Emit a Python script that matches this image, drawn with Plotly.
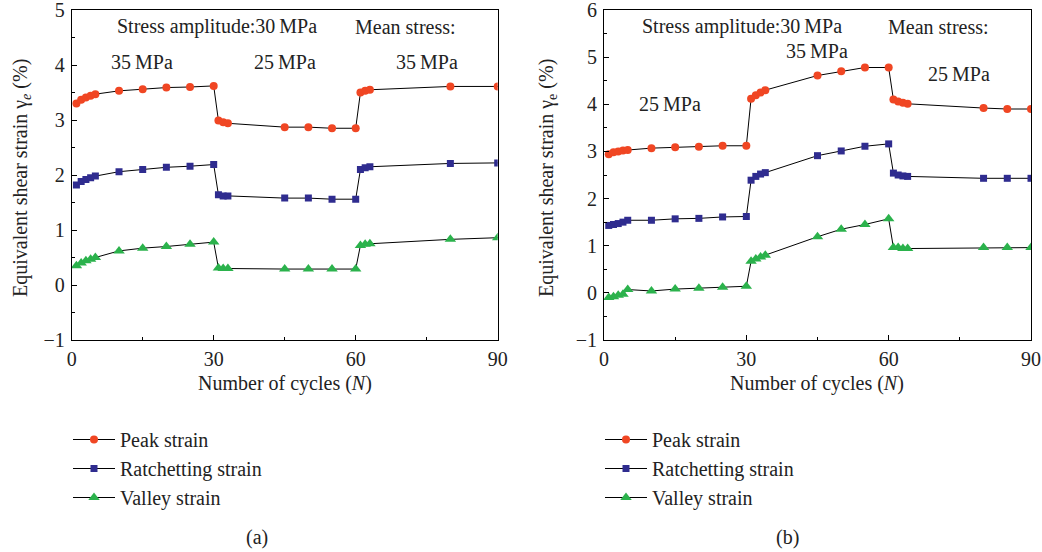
import plotly.graph_objects as go
from plotly.subplots import make_subplots

# ---- data (a) ----
cycles_a = [1, 2, 3, 4, 5, 10, 15, 20, 25, 30, 31, 32, 33, 45, 50, 55, 60, 61, 62, 63, 80, 90]
peak_a = [3.30, 3.37, 3.41, 3.44, 3.47, 3.53, 3.56, 3.59, 3.60, 3.62, 2.99, 2.96, 2.94,
          2.87, 2.87, 2.85, 2.85, 3.50, 3.53, 3.55, 3.61, 3.61]
ratch_a = [1.82, 1.88, 1.92, 1.95, 1.98, 2.06, 2.10, 2.14, 2.16, 2.19, 1.64, 1.62, 1.62,
           1.58, 1.58, 1.56, 1.56, 2.10, 2.13, 2.15, 2.21, 2.22]
valley_a = [0.35, 0.40, 0.44, 0.47, 0.50, 0.62, 0.67, 0.70, 0.74, 0.78, 0.31, 0.30, 0.30,
            0.29, 0.29, 0.29, 0.29, 0.72, 0.74, 0.75, 0.83, 0.86]

# ---- data (b) ----
cycles_b = [1, 2, 3, 4, 5, 10, 15, 20, 25, 30, 31, 32, 33, 34, 45, 50, 55, 60, 61, 62, 63, 64, 80, 85, 90]
peak_b = [2.94, 2.98, 3.00, 3.02, 3.03, 3.07, 3.09, 3.10, 3.12, 3.12, 4.12, 4.19, 4.25, 4.30,
          4.61, 4.70, 4.78, 4.78, 4.10, 4.06, 4.03, 4.01, 3.92, 3.90, 3.90]
ratch_b = [1.43, 1.45, 1.47, 1.50, 1.54, 1.54, 1.57, 1.58, 1.61, 1.62, 2.39, 2.47, 2.52, 2.55,
           2.91, 3.01, 3.11, 3.16, 2.54, 2.50, 2.48, 2.47, 2.43, 2.43, 2.43]
valley_b = [-0.10, -0.08, -0.05, -0.03, 0.07, 0.04, 0.08, 0.10, 0.12, 0.14, 0.67, 0.72, 0.76, 0.80,
            1.19, 1.35, 1.45, 1.57, 0.96, 0.96, 0.94, 0.94, 0.96, 0.96, 0.96]

series_names = ["Peak strain", "Ratchetting strain", "Valley strain"]
x_ticks = [0, 30, 60, 90]
y_ticks_a = [-1, 0, 1, 2, 3, 4, 5]
y_ticks_b = [-1, 0, 1, 2, 3, 4, 5, 6]

FONT = "Liberation Serif"
TXT = "#222"
colors = ["#F04623", "#2F2C8F", "#2BB24C"]
symbols = ["circle", "square", "triangle-up"]
sizes = [8, 7, 10]

W, H = 1042, 552
fig = make_subplots(rows=1, cols=2)

for col, (cyc, sets, leg) in enumerate([
        (cycles_a, [peak_a, ratch_a, valley_a], "legend"),
        (cycles_b, [peak_b, ratch_b, valley_b], "legend2")], start=1):
    for i, ys in enumerate(sets):
        fig.add_trace(go.Scatter(
            x=cyc, y=ys, mode="lines+markers", name=series_names[i],
            line=dict(color="black", width=1),
            marker=dict(color=colors[i], symbol=symbols[i], size=sizes[i], line=dict(width=0)),
            legend=leg), row=1, col=col)

x0a, x1a = 71.7 / W, 497.7 / W
x0b, x1b = 604 / W, 1031 / W
ytop, ybot = 1 - 10 / H, 1 - 340 / H

axis_common = dict(showline=True, linecolor="black", linewidth=1, mirror=True,
                   ticks="inside", ticklen=5, tickwidth=1, tickcolor="black",
                   showgrid=False, zeroline=False, automargin=False,
                   ticklabeloverflow="allow",
                   tickfont=dict(family=FONT, size=20, color=TXT))

fig.update_xaxes(**axis_common, range=[0, 90], tickvals=x_ticks, ticklabelstandoff=1,
                 minor=dict(ticks="inside", ticklen=3, dtick=15, tick0=0, tickcolor="black"))
fig.update_yaxes(**axis_common, ticklabelstandoff=2,
                 minor=dict(ticks="inside", ticklen=3, dtick=0.5, tickcolor="black"))

leg_common = dict(xanchor="left", yanchor="top", font=dict(family=FONT, size=20, color=TXT),
                  bgcolor="rgba(0,0,0,0)", tracegroupgap=0, itemwidth=42)
fig.update_layout(
    xaxis=dict(domain=[x0a, x1a]),
    xaxis2=dict(domain=[x0b, x1b]),
    yaxis=dict(domain=[ybot, ytop], range=[-1, 5], tickvals=y_ticks_a),
    yaxis2=dict(domain=[ybot, ytop], range=[-1, 6], tickvals=y_ticks_b),
    width=W, height=H, margin=dict(l=0, r=0, t=0, b=0),
    paper_bgcolor="white", plot_bgcolor="white",
    font=dict(family=FONT, size=20, color=TXT),
    legend=dict(x=68 / W, y=1 - 420 / H, **leg_common),
    legend2=dict(x=600 / W, y=1 - 420 / H, **leg_common),
)

def ann(text, px, py, angle=0, yanchor="middle"):
    fig.add_annotation(text=text, x=px / W, y=1 - py / H, xref="paper", yref="paper",
                       showarrow=False, xanchor="center", yanchor=yanchor, textangle=angle,
                       font=dict(family=FONT, size=20, color=TXT))

ts = "\u2009"
ann(f"Stress amplitude:30{ts}MPa", 217, 27)
ann("Mean stress:", 405, 27)
ann(f"35{ts}MPa", 142, 62)
ann(f"25{ts}MPa", 285, 62)
ann(f"35{ts}MPa", 427, 62)
ann(f"Stress amplitude:30{ts}MPa", 742, 27)
ann("Mean stress:", 938, 27)
ann(f"35{ts}MPa", 817, 51)
ann(f"25{ts}MPa", 959, 74)
ann(f"25{ts}MPa", 670, 104)

# axis titles
ann("Number of cycles (<i>N</i>)", 285, 383)
ann("Number of cycles (<i>N</i>)", 817, 383)
ann("Equivalent shear strain γ<sub><i>e</i></sub> (%)", 21, 178, angle=-90)
ann("Equivalent shear strain γ<sub>e</sub> (%)", 547, 178, angle=-90)

ann("(a)", 257, 537)
ann("(b)", 787, 537)

fig.write_html("out.html")
